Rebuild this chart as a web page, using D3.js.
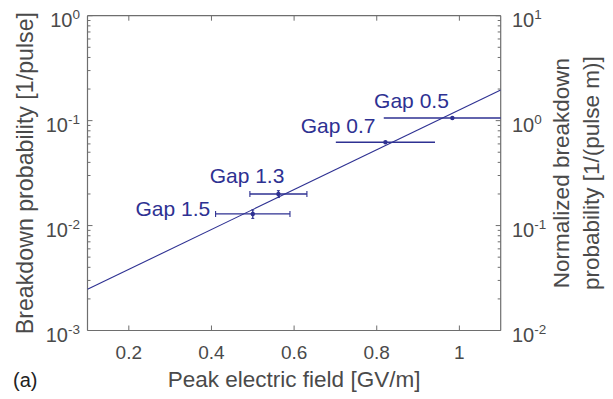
<!DOCTYPE html>
<html>
<head>
<meta charset="utf-8">
<script src="https://cdn.jsdelivr.net/npm/d3@7"></script>
<style>
  html, body { margin: 0; padding: 0; background: #fff; }
  svg { display: block; font-family: "Liberation Sans", Arial, Helvetica, sans-serif; }
</style>
</head>
<body>
<svg id="chart" width="613" height="399"></svg>
<script>
// ---- data ----
const gapLabels = ["Gap 0.5", "Gap 0.7", "Gap 1.3", "Gap 1.5"];
const fieldValues = [0.983, 0.821, 0.562, 0.500];     // GV/m
const fieldErrors = [0.166, 0.120, 0.069, 0.090];     // GV/m
const probValues  = [0.106, 0.0622, 0.0200, 0.0129];  // 1/pulse
const probErrors  = [0, 0, 0.0015, 0.0012];
const fitField = [0.1, 1.1];
const fitProb  = [0.00247, 0.196];
const xTicks = [0.2, 0.4, 0.6, 0.8, 1.0];
const xTickLabels = ["0.2", "0.4", "0.6", "0.8", "1"];
const leftExps = [0, -1, -2, -3];
const rightExps = [1, 0, -1, -2];
const xDomain = [0.1, 1.1];
const yDomain = [1e-3, 1];
const yRightDomain = [1e-2, 10];

// ---- layout ----
const W = 613, H = 399;
const L = 87.5, R = 500.7, T = 15.7, B = 330.5;
const blue = "#2e3192";
const axisCol = "#6e6e6e";
const textCol = "#4a4a4a";

const svg = d3.select("#chart");
const x = d3.scaleLinear().domain(xDomain).range([L, R]);
const y = d3.scaleLog().domain(yDomain).range([B, T]);
const y2 = d3.scaleLog().domain(yRightDomain).range([B, T]);

// clip
svg.append("defs").append("clipPath").attr("id", "clip")
  .append("rect").attr("x", L).attr("y", T).attr("width", R - L).attr("height", B - T);

// minor ticks generator
function logMinor(dom) {
  const out = [];
  const lo = Math.floor(Math.log10(dom[0])), hi = Math.ceil(Math.log10(dom[1]));
  for (let e = lo; e < hi; e++) for (let m = 2; m <= 9; m++) out.push(m * Math.pow(10, e));
  return out.filter(v => v > dom[0] && v < dom[1]);
}

const axG = svg.append("g");
// left minor/major ticks
const minorL = logMinor(yDomain);
axG.selectAll(".ml").data(minorL).join("line")
  .attr("x1", L).attr("x2", L + 3).attr("y1", d => y(d)).attr("y2", d => y(d))
  .attr("stroke", axisCol).attr("stroke-width", 1);
axG.selectAll(".Ml").data(leftExps).join("line")
  .attr("x1", L).attr("x2", L + 5).attr("y1", d => y(Math.pow(10, d))).attr("y2", d => y(Math.pow(10, d)))
  .attr("stroke", axisCol).attr("stroke-width", 1);
// right ticks
const minorR = logMinor(yRightDomain);
axG.selectAll(".mr").data(minorR).join("line")
  .attr("x1", R).attr("x2", R - 3).attr("y1", d => y2(d)).attr("y2", d => y2(d))
  .attr("stroke", axisCol).attr("stroke-width", 1);
axG.selectAll(".Mr").data(rightExps).join("line")
  .attr("x1", R).attr("x2", R - 5).attr("y1", d => y2(Math.pow(10, d))).attr("y2", d => y2(Math.pow(10, d)))
  .attr("stroke", axisCol).attr("stroke-width", 1);
// x ticks bottom & top
axG.selectAll(".xb").data(xTicks).join("line")
  .attr("x1", d => x(d)).attr("x2", d => x(d)).attr("y1", B).attr("y2", B - 5)
  .attr("stroke", axisCol).attr("stroke-width", 1);
axG.selectAll(".xt").data(xTicks).join("line")
  .attr("x1", d => x(d)).attr("x2", d => x(d)).attr("y1", T).attr("y2", T + 5)
  .attr("stroke", axisCol).attr("stroke-width", 1);

// frame
axG.append("line").attr("x1", L).attr("x2", R).attr("y1", B).attr("y2", B).attr("stroke", axisCol).attr("stroke-width", 1.2);
axG.append("line").attr("x1", L).attr("x2", R).attr("y1", T).attr("y2", T).attr("stroke", axisCol).attr("stroke-width", 1.2);
axG.append("line").attr("x1", L).attr("x2", L).attr("y1", T).attr("y2", B).attr("stroke", axisCol).attr("stroke-width", 1.2);
axG.append("line").attr("x1", R).attr("x2", R).attr("y1", T).attr("y2", B).attr("stroke", axisCol).attr("stroke-width", 1.2);

// x tick labels
svg.selectAll(".xl").data(xTicks).join("text")
  .attr("x", d => x(d)).attr("y", B + 28.5)
  .attr("text-anchor", "middle").attr("font-size", 19).attr("fill", textCol)
  .text((d, i) => xTickLabels[i]);

// y tick labels
function powLabel(sel, ex) {
  sel.append("tspan").text("10");
  sel.append("tspan").attr("dy", -8).attr("font-size", 13.5).text(ex);
}
leftExps.forEach(e => {
  const t = svg.append("text").attr("x", 80).attr("y", y(Math.pow(10, e)) + 11.5)
    .attr("text-anchor", "end").attr("font-size", 20).attr("fill", textCol);
  powLabel(t, e);
});
rightExps.forEach(e => {
  const t = svg.append("text").attr("x", 512).attr("y", y2(Math.pow(10, e)) + 11.5)
    .attr("text-anchor", "start").attr("font-size", 20).attr("fill", textCol);
  powLabel(t, e);
});

// axis labels
svg.append("text").attr("x", (L + R) / 2).attr("y", 387)
  .attr("text-anchor", "middle").attr("font-size", 22.5).attr("fill", textCol)
  .text("Peak electric field [GV/m]");
svg.append("text").attr("transform", `translate(33,${(T + B) / 2}) rotate(-90)`)
  .attr("text-anchor", "middle").attr("font-size", 23.2).attr("fill", textCol)
  .text("Breakdown probability [1/pulse]");
svg.append("text").attr("transform", `translate(569,${(T + B) / 2}) rotate(-90)`)
  .attr("text-anchor", "middle").attr("font-size", 22.5).attr("fill", textCol)
  .text("Normalized breakdown");
svg.append("text").attr("transform", `translate(599,${(T + B) / 2}) rotate(-90)`)
  .attr("text-anchor", "middle").attr("font-size", 22.5).attr("fill", textCol)
  .text("probability [1/(pulse m)]");
svg.append("text").attr("x", 13).attr("y", 387)
  .attr("font-size", 20).attr("fill", "#222").text("(a)");

// plot content
const plotG = svg.append("g").attr("clip-path", "url(#clip)");
const fitData = fitField.map((f, i) => [f, fitProb[i]]);
plotG.append("path").datum(fitData)
  .attr("d", d3.line().x(d => x(d[0])).y(d => y(d[1])))
  .attr("fill", "none").attr("stroke", blue).attr("stroke-width", 1.1);

const pts = gapLabels.map((g, i) => ({ g, xv: fieldValues[i], xe: fieldErrors[i], yv: probValues[i], ye: probErrors[i] }));
pts.forEach(p => {
  plotG.append("line").attr("x1", x(p.xv - p.xe)).attr("x2", x(p.xv + p.xe))
    .attr("y1", y(p.yv)).attr("y2", y(p.yv)).attr("stroke", blue).attr("stroke-width", 1.3);
  if (p.ye > 0) {
    [p.xv - p.xe, p.xv + p.xe].forEach(xx => {
      plotG.append("line").attr("x1", x(xx)).attr("x2", x(xx))
        .attr("y1", y(p.yv) - 3).attr("y2", y(p.yv) + 3).attr("stroke", blue).attr("stroke-width", 1.1);
    });
    plotG.append("line").attr("x1", x(p.xv)).attr("x2", x(p.xv))
      .attr("y1", y(p.yv + p.ye)).attr("y2", y(p.yv - p.ye)).attr("stroke", blue).attr("stroke-width", 1.3);
    [p.yv + p.ye, p.yv - p.ye].forEach(yy => {
      plotG.append("line").attr("x1", x(p.xv) - 1.5).attr("x2", x(p.xv) + 1.5)
        .attr("y1", y(yy)).attr("y2", y(yy)).attr("stroke", blue).attr("stroke-width", 1);
    });
  }
  plotG.append("circle").attr("cx", x(p.xv)).attr("cy", y(p.yv)).attr("r", 2.2).attr("fill", blue);
});

// gap labels (offsets relative to points)
const labelOffsets = { "Gap 0.5": [-3.5, -10], "Gap 0.7": [-10, -9.5], "Gap 1.3": [6, -11], "Gap 1.5": [-42.5, 2] };
pts.forEach(p => {
  const o = labelOffsets[p.g];
  svg.append("text").attr("x", x(p.xv) + o[0]).attr("y", y(p.yv) + o[1])
    .attr("text-anchor", "end").attr("font-size", 21).attr("fill", blue).text(p.g);
});
</script>
</body>
</html>
